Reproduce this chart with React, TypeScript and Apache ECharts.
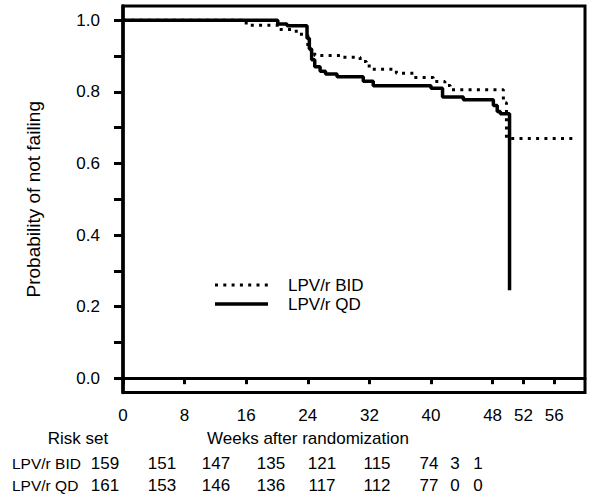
import React, { useEffect, useRef } from "react";
import * as echarts from "echarts";

// Kaplan-Meier step data: [week, probability after the step at that week]
const bidCurve: [number, number][] = [
  [0, 1.0], [16.0, 0.986], [20.3, 0.974], [22.5, 0.961], [24.0, 0.925], [24.4, 0.912],
  [24.9, 0.902], [28.2, 0.897], [30.8, 0.885], [31.6, 0.872], [32.2, 0.863],
  [35.5, 0.852], [37.8, 0.84], [40.3, 0.829], [41.8, 0.818], [42.5, 0.806],
  [49.4, 0.77], [49.8, 0.67], [58.7, 0.67],
];
const qdCurve: [number, number][] = [
  [0, 1.0], [20.1, 0.99], [21.3, 0.985], [23.9, 0.95], [24.2, 0.92], [24.5, 0.89],
  [24.9, 0.87], [25.6, 0.858], [26.3, 0.85], [27.8, 0.842], [31.2, 0.83],
  [32.5, 0.817], [40.0, 0.81], [41.5, 0.786], [44.2, 0.778], [48.1, 0.762],
  [48.6, 0.745], [49.0, 0.739], [50.2, 0.246],
];

const xTicks = [0, 8, 16, 24, 32, 40, 48, 52, 56];
const yTicks = [0, 0.1, 0.2, 0.3, 0.4, 0.5, 0.6, 0.7, 0.8, 0.9, 1.0];
const yLabels = [0, 0.2, 0.4, 0.6, 0.8, 1.0];

const seriesNames = ["LPV/r BID", "LPV/r QD"];
const riskBID = [159, 151, 147, 135, 121, 115, 74, 3, 1];
const riskQD = [161, 153, 146, 136, 117, 112, 77, 0, 0];

// layout of the risk table columns (pixel centres)
const riskColX = [105, 162, 216, 271, 322, 377, 429, 455, 478];

const FONT = "'Liberation Sans', Arial, sans-serif";
const DOTS = [3, 5.3];

export default function App() {
  const ref = useRef<HTMLDivElement>(null);
  useEffect(() => {
    document.body.style.margin = "0";
    const chart = echarts.init(ref.current!, null, { renderer: "svg" });
    const txt = (text: string, x: number, y: number, align = "center", size = 17) => ({
      type: "text",
      x,
      y,
      style: { text, fill: "#000", font: `${size}px ${FONT}`, textAlign: align, textVerticalAlign: "middle" },
    });
    const graphics: any[] = [
      // legend
      { type: "line", shape: { x1: 215, y1: 285, x2: 268, y2: 285 }, style: { stroke: "#000", lineWidth: 3, lineDash: DOTS } },
      { type: "line", shape: { x1: 215, y1: 304, x2: 268, y2: 304 }, style: { stroke: "#000", lineWidth: 3.5 } },
      txt(seriesNames[0], 288, 285, "left", 17),
      txt(seriesNames[1], 288, 304, "left", 17),
      // table headings
      txt("Risk set", 78, 438, "center", 17),
      txt("Weeks after randomization", 308, 438, "center", 17),
      txt(seriesNames[0], 12, 463, "left", 15.5),
      txt(seriesNames[1], 12, 485, "left", 15.5),
    ];
    riskBID.forEach((v, i) => graphics.push(txt(String(v), riskColX[i], 463, "center", 17)));
    riskQD.forEach((v, i) => graphics.push(txt(String(v), riskColX[i], 485, "center", 17)));

    chart.setOption({
      animation: false,
      backgroundColor: "#fff",
      grid: {
        left: 123, right: 15, top: 6, bottom: 111.5,
        show: true, borderColor: "#000", borderWidth: 3, backgroundColor: "transparent",
      },
      xAxis: {
        type: "value", min: 0, max: 60,
        axisLine: { show: true, lineStyle: { color: "#000", width: 3 } },
        axisTick: { show: true, length: 6, lineStyle: { color: "#000", width: 3 }, customValues: xTicks },
        axisLabel: { customValues: xTicks, color: "#000", fontSize: 17, fontFamily: FONT, margin: 14 },
        splitLine: { show: false },
      },
      yAxis: {
        type: "value", min: -0.04, max: 1.04,
        name: "Probability of not failing",
        nameLocation: "middle", nameGap: 80,
        nameTextStyle: { color: "#000", fontSize: 19, fontFamily: FONT },
        axisLine: { show: true, lineStyle: { color: "#000", width: 3.5 } },
        axisTick: { show: true, length: 9, lineStyle: { color: "#000", width: 3 }, customValues: yTicks },
        axisLabel: {
          customValues: yLabels, color: "#000", fontSize: 17, fontFamily: FONT, margin: 23,
          formatter: (v: number) => v.toFixed(1),
        },
        splitLine: { show: false },
      },
      series: [
        {
          name: seriesNames[0], type: "line", step: "end", data: bidCurve, symbol: "none",
          lineStyle: { color: "#000", width: 3, type: DOTS }, z: 3,
        },
        {
          name: seriesNames[1], type: "line", step: "end", data: qdCurve, symbol: "none",
          lineStyle: { color: "#000", width: 3.5 }, z: 2,
        },
      ],
      graphic: graphics,
    });
    return () => chart.dispose();
  }, []);
  return <div ref={ref} style={{ width: 600, height: 504 }} />;
}
